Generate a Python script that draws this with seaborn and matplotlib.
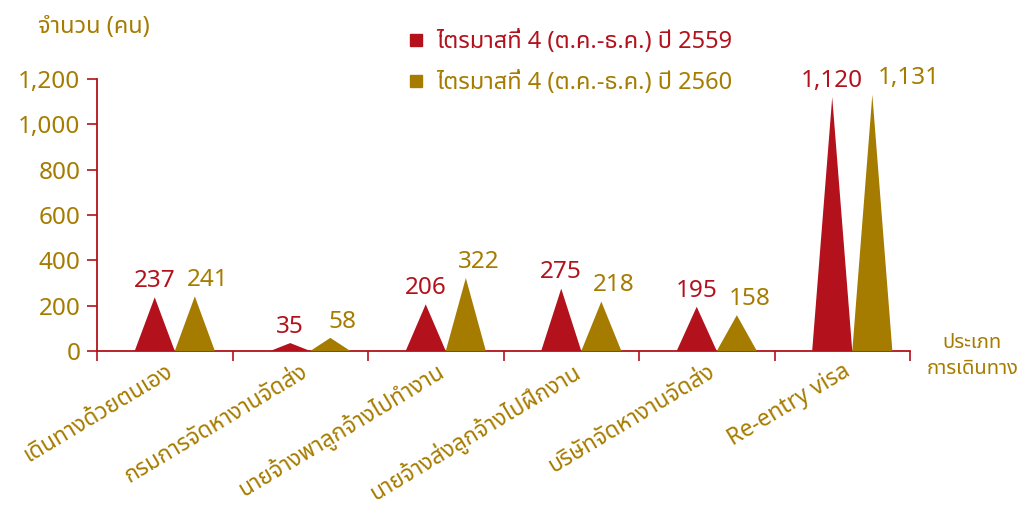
import numpy as np
import pandas as pd
import seaborn as sns
import matplotlib.pyplot as plt
from matplotlib import font_manager, ft2font
from matplotlib.lines import Line2D

categories = ["เดินทางด้วยตนเอง", "กรมการจัดหางานจัดส่ง", "นายจ้างพาลูกจ้างไปทำงาน",
              "นายจ้างส่งลูกจ้างไปฝึกงาน", "บริษัทจัดหางานจัดส่ง", "Re-entry visa"]
values_2559 = [237, 35, 206, 275, 195, 1120]
values_2560 = [241, 58, 322, 218, 158, 1131]
series_names = ["ไตรมาสที่ 4 (ต.ค.-ธ.ค.) ปี 2559", "ไตรมาสที่ 4 (ต.ค.-ธ.ค.) ปี 2560"]
yticks = [0, 200, 400, 600, 800, 1000, 1200]

RED = "#B3121C"
GOLD = "#A67C00"


def find_thai_font():
    preferred = ["Noto Sans Thai", "Noto Sans Thai UI", "Tahoma", "Loma", "Garuda", "Sarabun"]
    names = {}
    for f in font_manager.fontManager.ttflist:
        try:
            if 0x0E01 in ft2font.FT2Font(f.fname).get_charmap():
                names[f.name] = f.fname
        except Exception:
            pass
    for p in preferred:
        if p in names:
            return p
    return sorted(names)[0] if names else None


sns.set_theme(style="white")
thai = find_thai_font()
fams = [thai, "DejaVu Sans"] if thai else ["Noto Sans", "DejaVu Sans"]
plt.rcParams["font.family"] = fams

df = pd.DataFrame({"category": categories, "v2559": values_2559, "v2560": values_2560})

fig = plt.figure(figsize=(10.23, 5.08), dpi=100)
ax = fig.add_axes([97 / 1023, 1 - 351 / 508, (910 - 97) / 1023, (351 - 79) / 508])

# triangles: red sits a bit left of the category centre, gold right next to it
half = 0.148
offsets = [(-0.074, "v2559", RED), (0.222, "v2560", GOLD)]
last = len(categories) - 1
for i, row in df.iterrows():
    for off, key, col in offsets:
        cx = i + off
        val = row[key]
        ax.fill([cx - half, cx, cx + half], [0, val, 0], color=col, lw=0, zorder=3)
        if key == "v2560":
            dx = 26 if i == last else 9
        else:
            dx = 0
        ax.annotate(f"{val:,}", (cx, val), xytext=(dx, 3), textcoords="offset points",
                    ha="center", va="bottom", color=col, fontsize=17.5)

ax.set_xlim(-0.5, len(categories) - 0.5)
ax.set_ylim(0, 1200)
ax.set_yticks(yticks)
ax.set_yticklabels([f"{t:,}" for t in yticks])
ax.set_xticks(np.arange(len(categories) + 1) - 0.5)
ax.set_xticklabels([])
ax.set_xticks(np.arange(len(categories)) + 0.0, minor=True)
ax.set_xticklabels(categories, minor=True, rotation=31, ha="right", rotation_mode="anchor")
ax.tick_params(axis="x", which="minor", length=0, pad=6, labelsize=16.5, labelcolor=GOLD)
ax.tick_params(axis="x", which="major", length=7, width=1.2, color=RED, direction="out")
ax.tick_params(axis="y", length=7, width=1.2, color=RED, direction="out", labelsize=17.5,
               labelcolor=GOLD, pad=5)
ax.tick_params(bottom=True, left=True)
ax.tick_params(axis="x", which="minor", bottom=False)

sns.despine(ax=ax)
for s in ["left", "bottom"]:
    ax.spines[s].set_color(RED)
    ax.spines[s].set_linewidth(1.3)

fig.text(38 / 1023, 1 - 27 / 508, "จำนวน (คน)", color=GOLD, fontsize=17, va="center")
fig.text(1018 / 1023, 1 - 356 / 508, "ประเภท\nการเดินทาง", color=GOLD, fontsize=14.5,
         ha="right", va="center", linespacing=1.4, multialignment="center")

handles = [Line2D([], [], marker="s", ls="", color=RED, markersize=9),
           Line2D([], [], marker="s", ls="", color=GOLD, markersize=9)]
leg = fig.legend(handles, series_names, loc="upper left", bbox_to_anchor=(383 / 1023, 1 - 9 / 508),
                 frameon=False, fontsize=17, handletextpad=0.35, labelspacing=0.72, handlelength=1)
for t, c in zip(leg.get_texts(), [RED, GOLD]):
    t.set_color(c)

fig.savefig("out.png", dpi=100)
